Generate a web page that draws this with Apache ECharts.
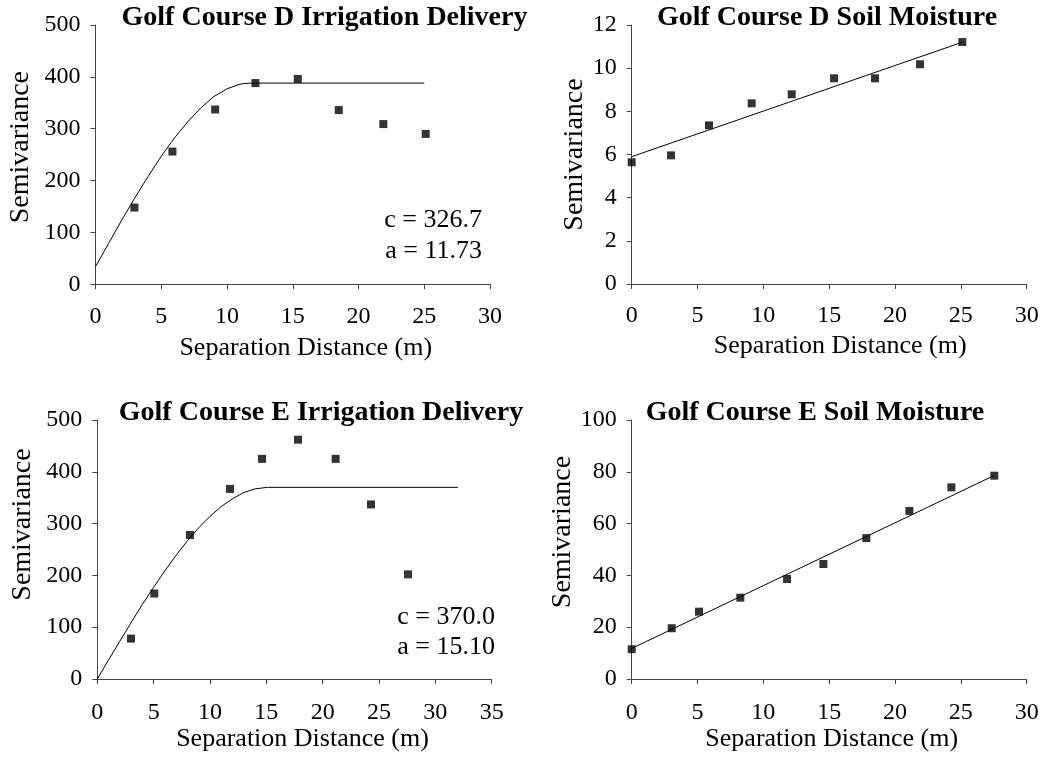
<!DOCTYPE html>
<html>
<head>
<meta charset="utf-8">
<script src="https://cdn.jsdelivr.net/npm/echarts@6/dist/echarts.min.js"></script>
<style>
  html, body { margin: 0; padding: 0; background: #fff; }
  #chart { width: 1043px; height: 759px; }
</style>
</head>
<body>
<div id="chart"></div>
<script>
// Golf Course D — irrigation delivery semivariogram (lag distance, semivariance)
const dIrrLag = [2.96, 5.85, 9.10, 12.16, 15.38, 18.50, 21.89, 25.11];
const dIrrGamma = [148, 256, 337, 388, 396, 336, 309, 290];
// fitted spherical model, D irrigation
const dIrrModelLag = [0, 1, 2, 3, 4, 5, 6, 7, 8, 9, 10, 11, 11.73, 25];
const dIrrModelGamma = [34, 79, 124, 167, 208, 247, 282, 313, 340, 362, 377, 386, 388, 388];

// Golf Course D — soil moisture semivariogram
const dSoilLag = [0, 2.99, 5.87, 9.11, 12.15, 15.37, 18.48, 21.90, 25.11];
const dSoilGamma = [5.64, 5.96, 7.35, 8.37, 8.79, 9.53, 9.53, 10.18, 11.21];
// fitted linear model, D soil moisture
const dSoilModelLag = [0, 25.1];
const dSoilModelGamma = [5.9, 11.2];

// Golf Course E — irrigation delivery semivariogram
const eIrrLag = [2.99, 5.06, 8.22, 11.78, 14.62, 17.81, 21.15, 24.29, 27.57];
const eIrrGamma = [78, 165, 278, 367, 425, 462, 425, 337, 202];
// fitted spherical model, E irrigation
const eIrrModelLag = [0, 1, 2, 3, 4, 5, 6, 7, 8, 9, 10, 11, 12, 13, 14, 15.1, 32];
const eIrrModelGamma = [0, 37, 73, 109, 144, 177, 209, 239, 267, 292, 314, 333, 348, 360, 367, 370, 370];

// Golf Course E — soil moisture semivariogram
const eSoilLag = [0, 3.04, 5.11, 8.25, 11.80, 14.56, 17.82, 21.09, 24.28, 27.54];
const eSoilGamma = [11.5, 19.6, 26.0, 31.4, 38.6, 44.4, 54.4, 64.9, 74.0, 78.5];
// fitted linear model, E soil moisture
const eSoilModelLag = [0, 27.5];
const eSoilModelGamma = [11.8, 78.5];

// panel text
const panelTitles = [
  'Golf Course D Irrigation Delivery',
  'Golf Course D Soil Moisture',
  'Golf Course E Irrigation Delivery',
  'Golf Course E Soil Moisture'
];
const xTitle = 'Separation Distance (m)';
const yTitle = 'Semivariance';
const dIrrParams = ['c = 326.7', 'a = 11.73'];
const eIrrParams = ['c = 370.0', 'a = 15.10'];

const FONT = "'Liberation Serif', 'Times New Roman', serif";
const AXIS_COLOR = '#444';

const zip = (xs, ys) => xs.map((x, i) => [x, ys[i]]);

const grids = [
  { left: 95.5, top: 25, width: 394.5, height: 259.3 },
  { left: 631.7, top: 25, width: 395, height: 259 },
  { left: 97.3, top: 420, width: 394.4, height: 259 },
  { left: 631.7, top: 420, width: 395, height: 259 }
];

function xAxisFor(i, max, labelMargin, nameGap, namePadLeft) {
  return {
    type: 'value', gridIndex: i, min: 0, max: max, interval: 5,
    splitLine: { show: false },
    axisLine: { show: true, onZero: false, lineStyle: { color: AXIS_COLOR, width: 1 } },
    axisTick: { show: true, length: 5, lineStyle: { color: AXIS_COLOR } },
    axisLabel: { color: '#000', fontFamily: FONT, fontSize: 24, margin: labelMargin },
    name: xTitle, nameLocation: 'middle', nameGap: nameGap,
    nameTextStyle: { color: '#000', fontFamily: FONT, fontSize: 26, padding: [0, 0, 0, namePadLeft] }
  };
}

function yAxisFor(i, max, interval, nameGap, namePadLeft) {
  return {
    type: 'value', gridIndex: i, min: 0, max: max, interval: interval,
    splitLine: { show: false },
    axisLine: { show: true, onZero: false, lineStyle: { color: AXIS_COLOR, width: 1 } },
    axisTick: { show: true, length: 5, lineStyle: { color: AXIS_COLOR } },
    axisLabel: { color: '#000', fontFamily: FONT, fontSize: 24, margin: 15 },
    name: yTitle, nameLocation: 'middle', nameGap: nameGap, nameRotate: 90,
    nameTextStyle: { color: '#000', fontFamily: FONT, fontSize: 28, padding: [0, 0, 0, namePadLeft] }
  };
}

function points(i, data) {
  return {
    type: 'scatter', xAxisIndex: i, yAxisIndex: i, data: data,
    symbol: 'rect', symbolSize: 8, itemStyle: { color: '#000' },
    silent: true, z: 3
  };
}

function model(i, data) {
  return {
    type: 'line', xAxisIndex: i, yAxisIndex: i, data: data,
    showSymbol: false, smooth: false,
    lineStyle: { color: '#000', width: 1 }, silent: true, z: 2
  };
}

function label(text, x, y, opts) {
  return {
    type: 'text', x: x, y: y, silent: true,
    style: Object.assign({
      text: text, fill: '#000', font: '26px ' + FONT,
      textAlign: 'right', textVerticalAlign: 'middle'
    }, opts || {})
  };
}

const titleStyle = { font: 'bold 28px ' + FONT, textAlign: 'center' };

const chart = echarts.init(document.getElementById('chart'), null, { renderer: 'canvas' });
chart.setOption({
  animation: false,
  backgroundColor: '#fff',
  grid: grids,
  xAxis: [
    xAxisFor(0, 30, 20, 51, 26),
    xAxisFor(1, 30, 20, 49, 22),
    xAxisFor(2, 35, 22, 46, 16),
    xAxisFor(3, 30, 22, 45, 5)
  ],
  yAxis: [
    yAxisFor(0, 500, 100, 61, 15),
    yAxisFor(1, 12, 2, 42, 0),
    yAxisFor(2, 500, 100, 61, 50),
    yAxisFor(3, 100, 20, 45, 35)
  ],
  series: [
    model(0, zip(dIrrModelLag, dIrrModelGamma)),
    points(0, zip(dIrrLag, dIrrGamma)),
    model(1, zip(dSoilModelLag, dSoilModelGamma)),
    points(1, zip(dSoilLag, dSoilGamma)),
    model(2, zip(eIrrModelLag, eIrrModelGamma)),
    points(2, zip(eIrrLag, eIrrGamma)),
    model(3, zip(eSoilModelLag, eSoilModelGamma)),
    points(3, zip(eSoilLag, eSoilGamma))
  ],
  graphic: [
    label(panelTitles[0], 324.5, 18, titleStyle),
    label(panelTitles[1], 827, 18, titleStyle),
    label(panelTitles[2], 321, 413, titleStyle),
    label(panelTitles[3], 815, 413, titleStyle),
    label(dIrrParams[0], 482, 220),
    label(dIrrParams[1], 482, 251),
    label(eIrrParams[0], 495, 617),
    label(eIrrParams[1], 495, 647)
  ]
});
</script>
</body>
</html>
